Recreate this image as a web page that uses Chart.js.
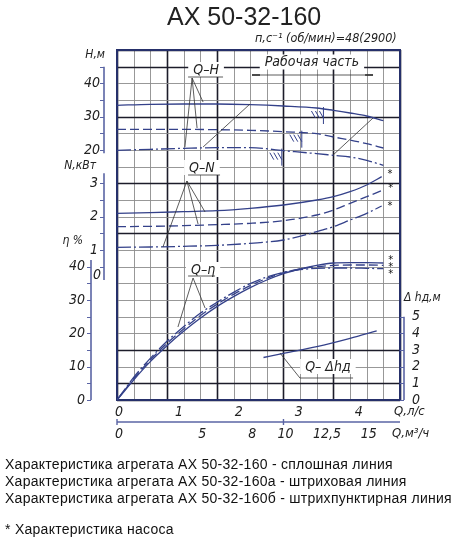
<!DOCTYPE html>
<html lang="ru">
<head>
<meta charset="utf-8">
<script src="https://cdn.jsdelivr.net/npm/chart.js@4.4.1/dist/chart.umd.min.js"></script>
<style>
  html, body { margin: 0; padding: 0; background: #fff; }
  #wrap { position: relative; width: 457px; height: 540px; overflow: hidden; }
  #chart { position: absolute; left: 0; top: 0; }
  .title { position: absolute; left: 167px; top: 4px; font: 25px/1 "Liberation Sans", Arial, sans-serif; color: #222; white-space: nowrap; }
  .note { position: absolute; left: 5px; font: 14px/1 "Liberation Sans", Arial, sans-serif; letter-spacing: 0.27px; color: #111; white-space: nowrap; }
</style>
</head>
<body>
<div id="wrap">
  <canvas id="chart" width="457" height="540"></canvas>
  <div class="title">АХ 50-32-160</div>
  <div class="note" style="top:457px">Характеристика агрегата АХ 50-32-160 - сплошная линия</div>
  <div class="note" style="top:474px">Характеристика агрегата АХ 50-32-160а - штриховая линия</div>
  <div class="note" style="top:491px">Характеристика агрегата АХ 50-32-160б - штрихпунктирная линия</div>
  <div class="note" style="top:522px">* Характеристика насоса</div>
</div>
<script>
// Flow, m3/h, and curve values
const qH = [0, 2, 4, 6, 8, 10, 12, 13, 14, 15, 16];
const hSolid = [33.4, 33.7, 33.8, 33.8, 33.6, 33.2, 32.6, 31.9, 31.1, 30.2, 28.8];
const hDash = [26.2, 26.2, 26.2, 26.1, 25.9, 25.5, 24.9, 23.9, 23.0, 21.9, 20.6];
const hDashDot = [19.9, 20.2, 20.5, 20.7, 20.7, 19.8, 18.9, 18.4, 17.9, 16.9, 15.4];

const qN = [0, 2, 4, 6, 8, 10, 12, 13, 14, 15, 15.9];
const nSolid = [2.10, 2.12, 2.15, 2.18, 2.25, 2.35, 2.50, 2.60, 2.75, 2.95, 3.20];
const nDash = [1.70, 1.71, 1.73, 1.76, 1.80, 1.88, 2.05, 2.20, 2.40, 2.60, 2.78];
const nDashDot = [1.08, 1.09, 1.11, 1.14, 1.20, 1.30, 1.55, 1.70, 1.90, 2.10, 2.32];

const qEta = [0, 0.5, 1, 2, 3, 4, 5, 6, 7, 8, 9, 10, 11, 12, 13, 14, 15, 16];
const etaSolid = [0, 3.0, 6.0, 11.5, 16.3, 20.6, 24.5, 28.0, 31.0, 33.7, 36.0, 37.9, 39.3, 40.4, 41.1, 41.2, 41.2, 41.1];
const etaDash = [0, 3.2, 6.4, 12.0, 17.0, 21.3, 25.3, 28.7, 31.7, 34.3, 36.5, 38.2, 39.3, 40.0, 40.4, 40.5, 40.5, 40.4];
const etaDashDot = [0, 3.4, 6.8, 12.5, 17.6, 22.0, 26.0, 29.3, 32.3, 34.9, 36.9, 38.3, 39.1, 39.5, 39.6, 39.6, 39.5, 39.4];

const qDh = [8.8, 10, 12, 14, 15.6];
const dh = [2.55, 2.8, 3.2, 3.7, 4.15];

// Tick labels
const hTicks = [20, 30, 40];
const nTicks = [1, 2, 3];
const etaTicks = [0, 10, 20, 30, 40];
const dhTicks = [0, 1, 2, 3, 4, 5];
const lsTicks = [0, 1, 2, 3, 4];
const m3Ticks = [0, 5, 8, 10, 12.5, 15];
const m3Labels = ['0', '5', '8', '10', '12,5', '15'];

// Grid: one cell = 1 m3/h across, 21 cells up; heavier lines where drawn heavy
const qThick = [0, 3, 6, 10, 13, 17];
const rowThick = [0, 1, 3, 10, 13, 17, 20, 21];

const CURVE = '#34418a';
const AXIS = '#5a64a4';
const INK = '#222';
const DASH = [9, 4];
const DASHDOT = [14, 3, 2, 3];
const FONT = '"Liberation Sans Narrow", "DejaVu Sans Condensed", "Liberation Sans", sans-serif';

// Leader lines and labels, in (m3/h, grid row) units
const leaders = [
  [[4.51, 19.32], [4.08, 15.18]], [[4.51, 19.32], [4.81, 16.32]], [[4.51, 19.32], [5.17, 17.88]],
  [[4.27, 19.38], [6.37, 19.38]],
  [[4.2, 13.14], [2.76, 9.18]], [[4.2, 13.14], [4.87, 10.56]], [[4.2, 13.14], [5.29, 11.28]],
  [[4.27, 13.5], [6.19, 13.5]],
  [[4.57, 7.32], [3.66, 4.38]], [[4.57, 7.32], [5.29, 5.52]],
  [[4.27, 7.44], [5.89, 7.44]],
  [[9.79, 2.82], [10.99, 1.32]], [[10.99, 1.32], [14.18, 1.32]],
  [[5.17, 15.18], [7.99, 17.76]], [[12.98, 14.7], [15.38, 16.92]]
];
const curveLabels = [
  { text: 'Q–H', q: 5.35, r: 19.8 },
  { text: 'Q–N', q: 5.1, r: 13.92 },
  { text: 'Q–η', q: 5.17, r: 7.8 },
  { text: 'Q– Δhд', q: 12.67, r: 1.98 },
  { text: 'Рабочая часть', q: 11.71, r: 20.25 }
];
const workRange = [8.11, 15.38];
const hatchMarks = [
  { q: 12.4, axis: 'yH', v: 32.3 },
  { q: 11.1, axis: 'yH', v: 25.2 },
  { q: 9.9, axis: 'yH', v: 19.8 }
];
const stars = [[16.4, 13.68], [16.45, 12.81], [16.4, 11.76], [16.45, 8.52], [16.45, 8.1], [16.45, 7.68]];

function curve(label, qs, vals, axis, dash) {
  return {
    label, yAxisID: axis,
    data: qs.map((q, i) => ({ x: q, y: vals[i] })),
    borderColor: CURVE, borderWidth: 1.3, borderDash: dash || [],
    pointRadius: 0, fill: false, cubicInterpolationMode: 'monotone'
  };
}

function line(ctx, x1, y1, x2, y2) {
  ctx.beginPath(); ctx.moveTo(x1, y1); ctx.lineTo(x2, y2); ctx.stroke();
}

function text(ctx, s, x, y, size, align) {
  ctx.font = 'italic ' + size + 'px ' + FONT;
  ctx.textAlign = align || 'center';
  ctx.textBaseline = 'middle';
  ctx.fillText(s, x, y);
}

// Vertical axis at pixel x with ticks every step between lo and hi
function vAxis(ctx, scale, x, lo, hi, step) {
  ctx.strokeStyle = AXIS;
  ctx.lineWidth = 1.6;
  line(ctx, x, scale.getPixelForValue(hi), x, scale.getPixelForValue(lo));
  ctx.lineWidth = 1;
  for (let v = Math.ceil(lo / step) * step; v <= hi + 1e-9; v += step) {
    const y = Math.round(scale.getPixelForValue(v)) + 0.5;
    line(ctx, x, y, x - 4, y);
  }
}

const drawings = {
  id: 'drawings',
  beforeDatasetsDraw(chart) {
    const { ctx, chartArea: a, scales } = chart;
    ctx.save();
    for (let q = 0; q <= 17; q++) {
      const x = Math.round(scales.x.getPixelForValue(q)) + 0.5;
      const heavy = qThick.includes(q);
      ctx.strokeStyle = heavy ? '#1c1c2a' : '#8c8c8c';
      ctx.lineWidth = heavy ? 1.6 : 0.9;
      line(ctx, x, a.top, x, a.bottom);
    }
    for (let r = 0; r <= 21; r++) {
      const y = Math.round(scales.yG.getPixelForValue(r)) + 0.5;
      const heavy = rowThick.includes(r);
      ctx.strokeStyle = heavy ? '#1c1c2a' : '#8c8c8c';
      ctx.lineWidth = heavy ? 1.6 : 0.9;
      line(ctx, a.left, y, a.right, y);
    }
    // frame
    ctx.strokeStyle = '#26306a';
    ctx.lineWidth = 2;
    ctx.strokeRect(a.left, a.top, a.right - a.left, a.bottom - a.top);

    // white gaps where labels break the grid
    ctx.fillStyle = '#fff';
    curveLabels.forEach(l => {
      ctx.font = 'italic 14px ' + FONT;
      const w = ctx.measureText(l.text).width + 10;
      const x = scales.x.getPixelForValue(l.q), y = scales.yG.getPixelForValue(l.r);
      ctx.fillRect(x - w / 2, y - 8, w, 15);
    });
    ctx.restore();
  },
  afterDatasetsDraw(chart) {
    const { ctx, chartArea: a, scales } = chart;
    const X = scales.x, G = scales.yG;
    ctx.save();
    ctx.fillStyle = INK;

    // left and right value axes
    const xH = a.left - 13, xEta = a.left - 26, xDh = a.right + 4;
    vAxis(ctx, scales.yH, xH, 19, 45, 5);
    vAxis(ctx, scales.yN, xH, 0.1, 3.3, 0.5);
    vAxis(ctx, scales.yE, xEta, 0, 42, 5);
    vAxis(ctx, scales.yD, xDh, 0, 5, 1);

    hTicks.forEach(v => text(ctx, String(v), xH - 4, scales.yH.getPixelForValue(v), 14, 'right'));
    nTicks.forEach(v => text(ctx, String(v), xH - 6, scales.yN.getPixelForValue(v), 14, 'right'));
    text(ctx, '0', xH - 3, scales.yN.getPixelForValue(0.25), 14, 'right');
    etaTicks.forEach(v => text(ctx, String(v), xEta - 6, scales.yE.getPixelForValue(v), 14, 'right'));
    dhTicks.forEach(v => text(ctx, String(v), xDh + 8, scales.yD.getPixelForValue(v), 14, 'left'));

    text(ctx, 'Н,м', xH + 1, a.top + 5, 12, 'right');
    text(ctx, 'N,кВт', xH - 8, a.top + 116, 12, 'right');
    text(ctx, 'η %', xEta - 8, a.top + 191, 12, 'right');
    text(ctx, 'Δ hд,м', xDh, a.top + 248, 12, 'left');
    text(ctx, 'п,с⁻¹ (об/мин)=48(2900)', a.left + 138, a.top - 11, 12.5, 'left');

    // bottom scales: l/s just under the grid, m3/h on its own line
    const yLs = a.bottom + 12, yAx = a.bottom + 22, yM3 = a.bottom + 34;
    lsTicks.forEach(v => text(ctx, String(v), scales.xL.getPixelForValue(v) + 2, yLs, 14));
    text(ctx, 'Q,л/с', a.right - 6, yLs, 13, 'left');
    ctx.strokeStyle = AXIS; ctx.lineWidth = 1.4;
    line(ctx, a.left, yAx, a.right, yAx);
    [0, 10].forEach(v => { const x = X.getPixelForValue(v); line(ctx, x, yAx - 3, x, yAx + 3); });
    m3Ticks.forEach((v, i) => text(ctx, m3Labels[i], X.getPixelForValue(v) + 2, yM3, 14));
    text(ctx, 'Q,м³/ч', a.right - 8, yM3, 13, 'left');

    // leader lines and boundary lines
    ctx.strokeStyle = '#333'; ctx.lineWidth = 0.8;
    leaders.forEach(([p, s]) => line(ctx, X.getPixelForValue(p[0]), G.getPixelForValue(p[1]), X.getPixelForValue(s[0]), G.getPixelForValue(s[1])));

    // working range dimension line
    const yW = G.getPixelForValue(19.5), w0 = X.getPixelForValue(workRange[0]), w1 = X.getPixelForValue(workRange[1]);
    line(ctx, w0, yW, w1, yW);
    ctx.lineWidth = 1.6;
    line(ctx, w0, yW, w0 + 8, yW); line(ctx, w1 - 8, yW, w1, yW);

    // hatched start-of-range marks
    ctx.strokeStyle = CURVE; ctx.lineWidth = 1;
    hatchMarks.forEach(m => {
      const x = X.getPixelForValue(m.q), y = scales[m.axis].getPixelForValue(m.v);
      line(ctx, x, y - 2, x, y + 15);
      for (let k = 0; k < 3; k++) line(ctx, x - 12 + k * 4, y + 2, x - 8 + k * 4, y + 9);
    });

    curveLabels.forEach(l => text(ctx, l.text, X.getPixelForValue(l.q), G.getPixelForValue(l.r), 14));
    ctx.fillStyle = '#111';
    stars.forEach(s => text(ctx, '*', X.getPixelForValue(s[0]), G.getPixelForValue(s[1]) + 2, 11));
    ctx.restore();
  }
};

new Chart(document.getElementById('chart'), {
  type: 'line',
  data: {
    datasets: [
      curve('H 160', qH, hSolid, 'yH'),
      curve('H 160а', qH, hDash, 'yH', DASH),
      curve('H 160б', qH, hDashDot, 'yH', DASHDOT),
      curve('N 160', qN, nSolid, 'yN'),
      curve('N 160а', qN, nDash, 'yN', DASH),
      curve('N 160б', qN, nDashDot, 'yN', DASHDOT),
      curve('η 160', qEta, etaSolid, 'yE'),
      curve('η 160а', qEta, etaDash, 'yE', DASH),
      curve('η 160б', qEta, etaDashDot, 'yE', DASHDOT),
      curve('Δhд', qDh, dh, 'yD')
    ]
  },
  options: {
    responsive: false,
    animation: false,
    devicePixelRatio: 1,
    layout: { padding: { left: 117, right: 57, top: 50, bottom: 140 } },
    plugins: { legend: { display: false }, tooltip: { enabled: false } },
    scales: {
      x: { type: 'linear', min: 0, max: 17, display: false },
      xL: { type: 'linear', axis: 'x', min: 0, max: 17 / 3.6, display: false },
      yG: { type: 'linear', min: 0, max: 21, display: false },
      yH: { type: 'linear', min: -55, max: 50, display: false },
      yN: { type: 'linear', min: -3.5, max: 7, display: false },
      yE: { type: 'linear', min: 0, max: 105, display: false },
      yD: { type: 'linear', min: 0, max: 21, display: false }
    }
  },
  plugins: [drawings]
});
</script>
</body>
</html>
